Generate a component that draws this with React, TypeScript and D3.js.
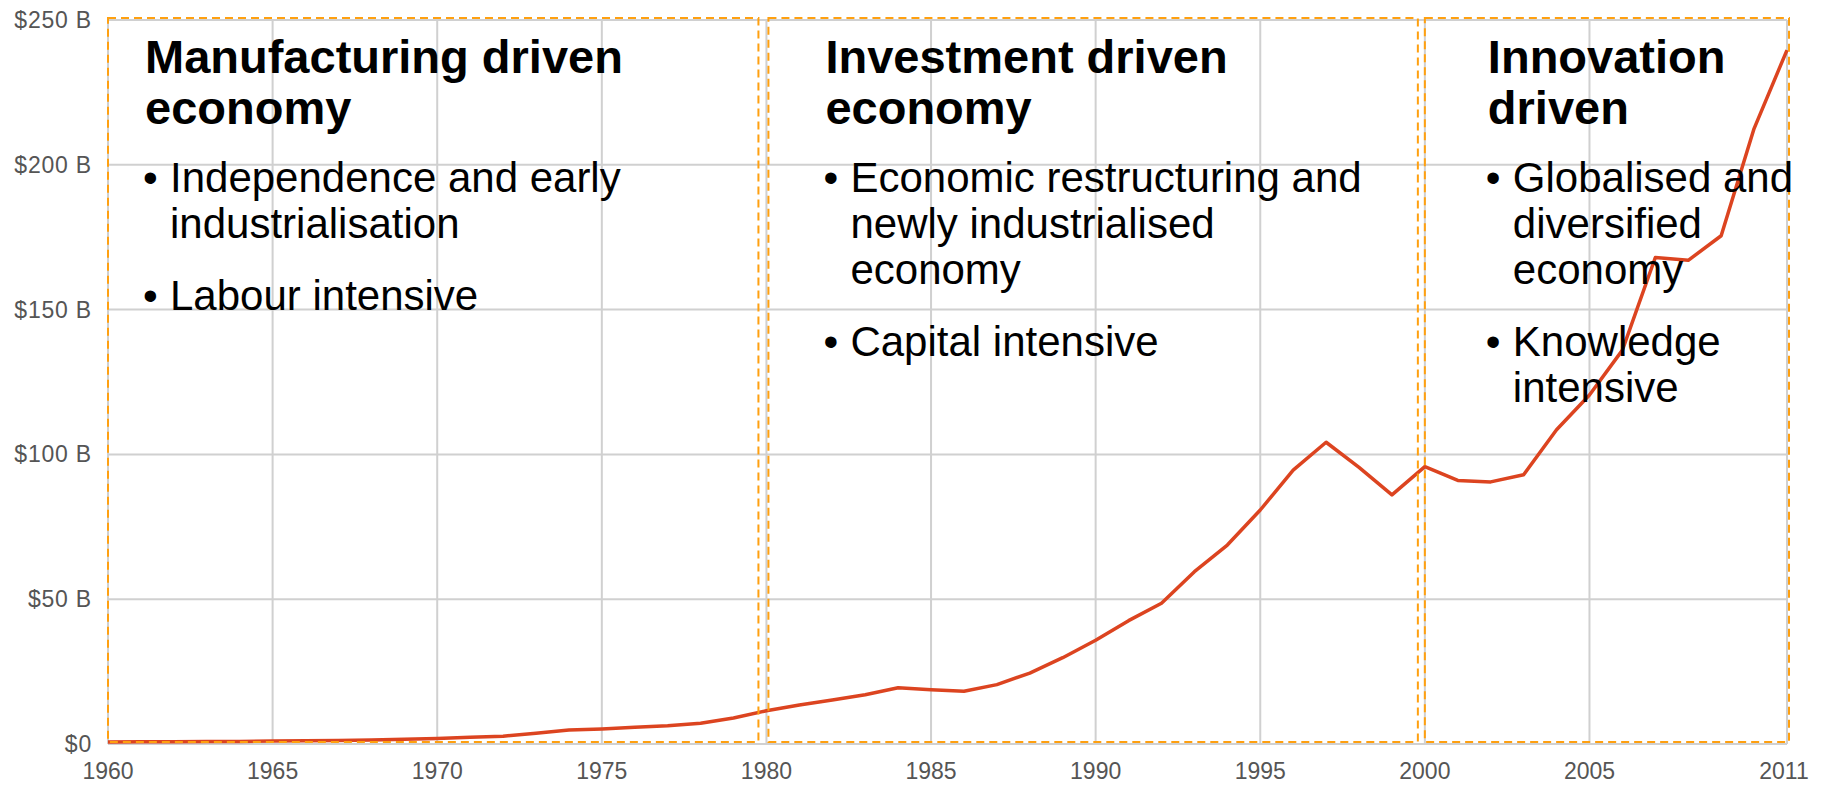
import { useRef, useEffect } from 'react';
import * as d3 from 'd3';

// Years and GDP (current US$, billions)
const years = [
    1960, 1961, 1962, 1963, 1964, 1965, 1966, 1967, 1968, 1969,
    1970, 1971, 1972, 1973, 1974, 1975, 1976, 1977, 1978, 1979,
    1980, 1981, 1982, 1983, 1984, 1985, 1986, 1987, 1988, 1989,
    1990, 1991, 1992, 1993, 1994, 1995, 1996, 1997, 1998, 1999,
    2000, 2001, 2002, 2003, 2004, 2005, 2006, 2007, 2008, 2009,
    2010, 2011
];
const gdpBillions = [
    0.7, 0.75, 0.8, 0.9, 0.9, 1.0, 1.1, 1.2, 1.4, 1.6,
    1.9, 2.3, 2.7, 3.7, 4.8, 5.2, 5.8, 6.3, 7.2, 9.0,
    11.5, 13.5, 15.2, 17.0, 19.4, 18.7, 18.2, 20.5, 24.5, 29.8,
    35.8, 42.6, 48.6, 59.5, 68.7, 80.8, 94.6, 104.2, 95.5, 86.0,
    95.8, 91.0, 90.5, 93.0, 108.5, 120.5, 136.0, 168.0, 167.0, 175.5,
    212.5, 239.6
];

// Axis ticks
const xTickYears = [1960, 1965, 1970, 1975, 1980, 1985, 1990, 1995, 2000, 2005, 2011];
const yTickValues = [0, 50, 100, 150, 200, 250];
const yTickLabels = ["$0", "$50 B", "$100 B", "$150 B", "$200 B", "$250 B"];

// Economic eras
const eraStart = [1960, 1980, 2000];
const eraEnd = [1980, 2000, 2011];
const eraTitles = [
    ["Manufacturing driven", "economy"],
    ["Investment driven", "economy"],
    ["Innovation", "driven"]
];
const eraBullets = [
    [["Independence and early", "industrialisation"], ["Labour intensive"]],
    [["Economic restructuring and", "newly industrialised", "economy"], ["Capital intensive"]],
    [["Globalised and", "diversified", "economy"], ["Knowledge", "intensive"]]
];

function App() {

    const svgRef = useRef<SVGSVGElement>(null);

    useEffect(() => {

        //Dimension
        const width = 1826;
        const height = 786;
        const font = "'Liberation Sans', Arial, sans-serif";

        if (!svgRef.current) return;

        const svg = d3.select(svgRef.current)
            .attr("width", width)
            .attr("height", height)
            .attr("viewBox", [0, 0, width, height].join(" "));

        //Clear previous content
        svg.selectAll("*").remove();

        const x = d3.scaleLinear().domain([1960, 2011]).range([108, 1787]);
        const y = d3.scaleLinear().domain([0, 250]).range([744, 20]);

        //Grid lines
        const grid = svg.append("g")
            .attr("stroke", "#d0d0d0")
            .attr("stroke-width", 2);

        grid.selectAll("line.v")
            .data(xTickYears)
            .join("line")
            .attr("class", "v")
            .attr("x1", d => x(d))
            .attr("x2", d => x(d))
            .attr("y1", y(250))
            .attr("y2", y(0));

        grid.selectAll("line.h")
            .data(yTickValues)
            .join("line")
            .attr("class", "h")
            .attr("x1", x(1960))
            .attr("x2", x(2011))
            .attr("y1", d => y(d))
            .attr("y2", d => y(d));

        //Tick labels
        svg.append("g")
            .selectAll("text")
            .data(yTickValues)
            .join("text")
            .attr("x", 92)
            .attr("y", d => y(d))
            .attr("dy", "0.35em")
            .attr("text-anchor", "end")
            .attr("font-family", font)
            .attr("font-size", "23px")
            .attr("letter-spacing", "0.8px")
            .attr("fill", "#555")
            .text((d, i) => yTickLabels[i]);

        svg.append("g")
            .selectAll("text")
            .data(xTickYears)
            .join("text")
            .attr("x", d => x(d) - (d === 2011 ? 3 : 0))
            .attr("y", 779)
            .attr("text-anchor", "middle")
            .attr("font-family", font)
            .attr("font-size", "23px")
            .attr("fill", "#555")
            .text(d => d);

        //GDP line
        const line = d3.line<number>()
            .x((d, i) => x(years[i]))
            .y(d => y(d));

        svg.append("path")
            .datum(gdpBillions)
            .attr("fill", "none")
            .attr("stroke", "#dc4420")
            .attr("stroke-width", 3.5)
            .attr("stroke-linejoin", "round")
            .attr("d", line);

        //Era boxes and text
        const boxInsetLeft = [0, 2, 0];
        const boxInsetRight = [-8, -7, 2];
        const textOffset = [37, 57, 63];
        const boxTop = 18;
        const boxBottom = 742;

        eraStart.forEach((start, i) => {
            const left = x(start) + boxInsetLeft[i];
            const right = x(eraEnd[i]) + boxInsetRight[i];

            svg.append("rect")
                .attr("x", left)
                .attr("y", boxTop)
                .attr("width", right - left)
                .attr("height", boxBottom - boxTop)
                .attr("fill", "none")
                .attr("stroke", "#ffa010")
                .attr("stroke-width", 2)
                .attr("stroke-dasharray", "8,5");

            const tx = left + textOffset[i];
            const g = svg.append("g")
                .attr("font-family", font)
                .attr("fill", "#000");

            eraTitles[i].forEach((t, j) => {
                g.append("text")
                    .attr("x", tx)
                    .attr("y", 72.7 + j * 51.5)
                    .attr("font-size", "47px")
                    .attr("font-weight", "bold")
                    .text(t);
            });

            let baseline = 191.7;
            eraBullets[i].forEach(lines => {
                g.append("text")
                    .attr("x", tx - 2)
                    .attr("y", baseline)
                    .attr("font-size", "42px")
                    .text("\u2022");
                lines.forEach((t, j) => {
                    g.append("text")
                        .attr("x", tx + 25)
                        .attr("y", baseline + j * 46)
                        .attr("font-size", "42px")
                        .text(t);
                });
                baseline += (lines.length - 1) * 46 + 72.7;
            });
        });
    }, []);

    return (
        <svg ref={svgRef} style={{ position: 'absolute', left: 0, top: 0, background: '#fff' }} />
    );
}

export default App;
